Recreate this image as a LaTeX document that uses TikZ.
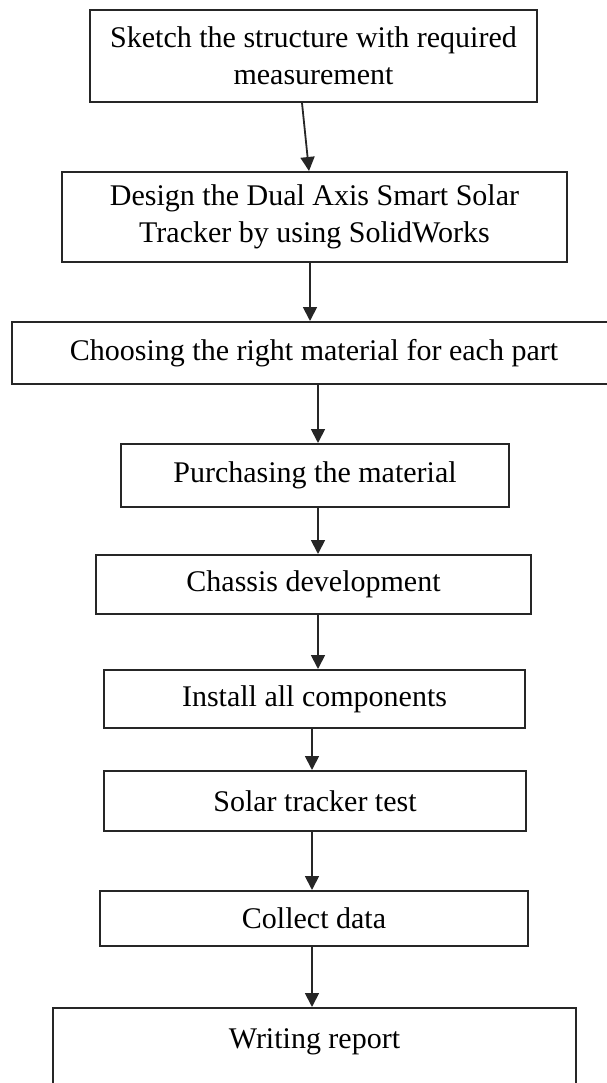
\documentclass[tikz,border=0pt]{standalone}
\usepackage{fontspec}
\setmainfont{Liberation Serif}
\usetikzlibrary{arrows.meta}
\begin{document}
\begin{tikzpicture}[x=1pt,y=-1pt,
 box/.style={rectangle,draw=black!85,line width=2pt,inner sep=0pt,align=center,
             font=\fontsize{30}{37}\selectfont},
 arrow/.style={-{Triangle[width=14pt,length=14pt]},line width=1.8pt,draw=black!85}]
\useasboundingbox (0,0) rectangle (607,1083);
\clip (0,0) rectangle (607,1083);
\node[box,minimum width=447pt,minimum height=92pt] (sketch) at (313.5,56) {Sketch the structure with required\\measurement};
\node[box,minimum width=505pt,minimum height=90pt] (design) at (314.5,217) {Design the Dual Axis Smart Solar\\Tracker by using SolidWorks};
\node[box,minimum width=604pt,minimum height=62pt] (choose) at (314,353) {Choosing the right material for each part};
\node[box,minimum width=388pt,minimum height=63pt] (purchase) at (315,475.5) {Purchasing the material};
\node[box,minimum width=435pt,minimum height=59pt] (chassis) at (313.5,584.5) {Chassis development};
\node[box,minimum width=421pt,minimum height=58pt] (install) at (314.5,699) {Install all components};
\node[box,minimum width=422pt,minimum height=60pt] (test) at (315,801) {Solar tracker test};
\node[box,minimum width=428pt,minimum height=55pt] (collect) at (314,918.5) {Collect data};
\node[box,minimum width=523pt,inner ysep=21pt,text depth=80pt,anchor=north] (report) at (314.5,1007) {Writing report};
\draw[arrow] ([xshift=-11.5pt]sketch.south) -- ([xshift=-5.5pt]design.north);
\draw[arrow] ([xshift=-4.5pt]design.south) -- ([xshift=-4pt]choose.north);
\draw[arrow] ([xshift=4pt]choose.south) -- ([xshift=3pt]purchase.north);
\draw[arrow] ([xshift=3pt]purchase.south) -- ([xshift=4.5pt]chassis.north);
\draw[arrow] ([xshift=4.5pt]chassis.south) -- ([xshift=3.5pt]install.north);
\draw[arrow] ([xshift=-2.5pt]install.south) -- ([xshift=-3pt]test.north);
\draw[arrow] ([xshift=-3pt]test.south) -- ([xshift=-2pt]collect.north);
\draw[arrow] ([xshift=-2pt]collect.south) -- ([xshift=-2.5pt]report.north);
\end{tikzpicture}
\end{document}
